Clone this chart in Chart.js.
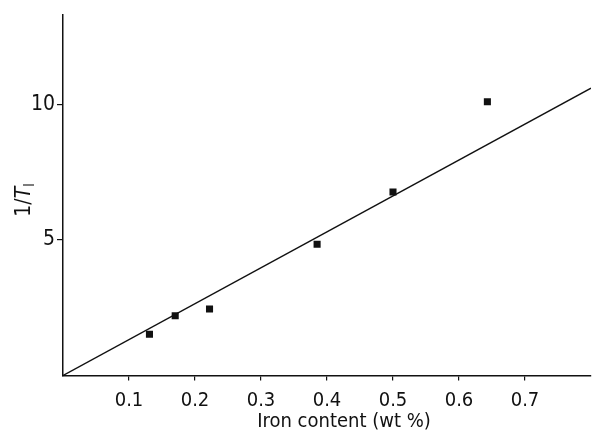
<!DOCTYPE html>
<html>
<head>
<meta charset="utf-8">
<script src="https://cdn.jsdelivr.net/npm/chart.js@4.4.1/dist/chart.umd.min.js"></script>
<style>
    body { margin: 0; background: #fff; }
    #wrap { width: 596px; height: 436px; }
</style>
</head>
<body>
<div id="wrap"><canvas id="myChart"></canvas></div>
<script>
// measured points
const ironContent = [0.131, 0.170, 0.222, 0.385, 0.500, 0.643];
const invTau = [1.52, 2.20, 2.45, 4.84, 6.76, 10.09];

// fitted straight line through the origin
const fitX = [0, 0.8];
const fitY = [0, 10.59];

const xTicks = [0.1, 0.2, 0.3, 0.4, 0.5, 0.6, 0.7];
const yTicks = [5, 10];

const FONT = '"Liberation Sans Narrow", "DejaVu Sans Condensed", sans-serif';

(function () {
    const ctx = document.getElementById('myChart');

    // axis titles drawn by hand so the T can be italic with a subscript
    const titles = {
        id: 'titles',
        afterDraw(chart) {
            const c = chart.ctx;
            c.save();
            c.fillStyle = '#111';
            c.textBaseline = 'middle';
            c.textAlign = 'center';
            c.font = '20px ' + FONT;
            c.fillText('Iron content (wt %)', 344, 422);

            c.translate(25, 200);
            c.rotate(-Math.PI / 2);
            c.textAlign = 'left';
            const a = '1/', t = 'T', s = 'l';
            c.font = '21px ' + FONT;
            const wa = c.measureText(a).width;
            c.font = 'italic 21px ' + FONT;
            const wt = c.measureText(t).width;
            c.font = '14px ' + FONT;
            const ws = c.measureText(s).width;
            let x = -(wa + wt + ws) / 2;
            c.font = '21px ' + FONT;
            c.fillText(a, x, 0);
            x += wa;
            c.font = 'italic 21px ' + FONT;
            c.fillText(t, x, 0);
            x += wt;
            c.font = '14px ' + FONT;
            c.fillText(s, x, 5);
            c.restore();
        }
    };

    const data = {
        datasets: [{
            type: 'scatter',
            data: ironContent.map((v, i) => ({ x: v, y: invTau[i] })),
            pointStyle: 'rect',
            pointRadius: 5,
            backgroundColor: '#111',
            borderColor: '#111',
            borderWidth: 0
        }, {
            type: 'line',
            data: fitX.map((v, i) => ({ x: v, y: fitY[i] })),
            borderColor: '#111',
            borderWidth: 1.4,
            pointRadius: 0,
            fill: false
        }]
    };

    const config = {
        type: 'scatter',
        data: data,
        plugins: [titles],
        options: {
            responsive: true,
            maintainAspectRatio: false,
            animation: false,
            layout: { padding: { top: 12, right: 3 } },
            scales: {
                x: {
                    type: 'linear',
                    min: 0,
                    max: 0.8,
                    afterBuildTicks: scale => { scale.ticks = xTicks.map(v => ({ value: v })); },
                    afterFit: scale => { scale.height = 60.5; },
                    border: { color: '#111', width: 1.5 },
                    grid: { drawOnChartArea: false, color: '#111', tickLength: 5, lineWidth: 1.2 },
                    ticks: {
                        color: '#111',
                        padding: 8,
                        font: { family: FONT, size: 20 },
                        callback: v => v.toFixed(1)
                    }
                },
                y: {
                    min: 0,
                    max: 13.3,
                    afterBuildTicks: scale => { scale.ticks = yTicks.map(v => ({ value: v })); },
                    afterFit: scale => { scale.width = 63; },
                    border: { color: '#111', width: 1.5 },
                    grid: { drawOnChartArea: false, color: '#111', tickLength: 6, lineWidth: 1.2 },
                    ticks: {
                        color: '#111',
                        padding: 2,
                        font: { family: FONT, size: 21 }
                    }
                }
            },
            plugins: {
                legend: { display: false },
                tooltip: { enabled: false }
            }
        }
    };

    if (ctx) {
        new Chart(ctx, config);
    }
})();
</script>
</body>
</html>
